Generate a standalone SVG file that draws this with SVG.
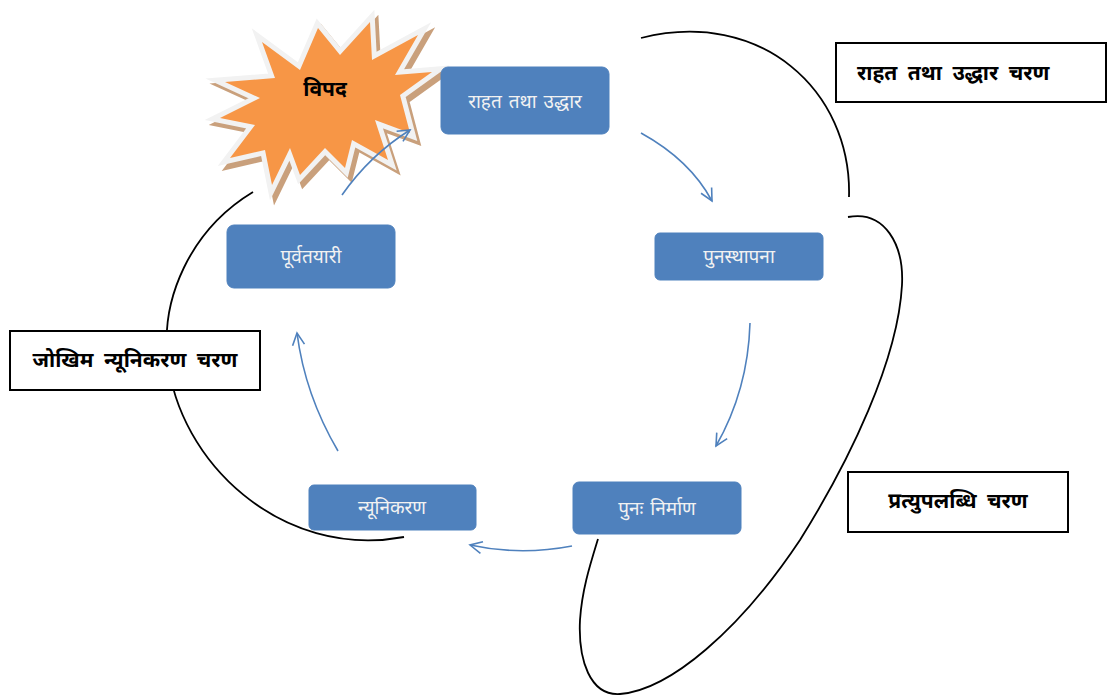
<svg xmlns="http://www.w3.org/2000/svg" width="1111" height="696" viewBox="0 0 1111 696">
<style>
.box{fill:#4F81BD;stroke:#4F81BD;stroke-width:1}
.btxt{font-family:"Noto Sans","Noto Serif",sans-serif;font-size:19px;word-spacing:2px;fill:#F2F2F2;text-anchor:middle;dominant-baseline:central}
.lbl{fill:#FFFFFF;stroke:#000000;stroke-width:2}
.ltxt{font-family:"Noto Sans",sans-serif;font-size:21px;word-spacing:5px;font-weight:bold;fill:#000000;dominant-baseline:central}
.arc{fill:none;stroke:#000000;stroke-width:1.8}
.flow{fill:none;stroke:#4F81BD;stroke-width:1.6;marker-end:url(#ah)}
</style>
<defs>
<marker id="ah" markerUnits="userSpaceOnUse" markerWidth="16" markerHeight="16" viewBox="0 0 16 16" refX="14" refY="8" orient="auto">
<path d="M2,2 L14,8 L2,14" fill="none" stroke="#4F81BD" stroke-width="1.6"/>
</marker>
<polygon id="star" points="262,42 300,70 318,28 340,55 370,22 372,60 418,35 395,75 432,72 400,95 410,133 375,120 388,160 352,140 345,168 325,148 300,175 290,148 272,185 265,150 230,158 255,125 220,118 260,98 225,82 275,78"/>
</defs>
<g id="disaster">
<use href="#star" transform="translate(4,5)" fill="#C9A07C" stroke="#C9A07C" stroke-width="10" stroke-linejoin="miter"/>
<use href="#star" fill="#F2F2F2" stroke="#F2F2F2" stroke-width="10" stroke-linejoin="miter"/>
<use href="#star" fill="#F79646"/>
<text x="325" y="88" class="ltxt" text-anchor="middle">विपद</text>
</g>
<g id="relief">
<rect class="box" x="441" y="67" width="168" height="67" rx="7"/>
<text class="btxt" x="525" y="101">राहत तथा उद्धार</text>
</g>
<g id="restoration">
<rect class="box" x="655" y="233" width="168" height="47" rx="5"/>
<text class="btxt" x="739" y="256">पुनस्थापना</text>
</g>
<g id="reconstruction">
<rect class="box" x="573" y="482" width="168" height="52" rx="6"/>
<text class="btxt" x="657" y="508">पुनः निर्माण</text>
</g>
<g id="mitigation">
<rect class="box" x="309" y="485" width="167" height="45" rx="5"/>
<text class="btxt" x="392" y="507">न्यूनिकरण</text>
</g>
<g id="preparedness">
<rect class="box" x="227" y="225" width="168" height="63" rx="7"/>
<text class="btxt" x="311" y="256">पूर्वतयारी</text>
</g>
<g id="connectors">
<path class="arc" d="M641,38 C760,8 852,90 849,197"/>
<path class="arc" d="M848,217 C885,210 904,245 902,285 C898,360 850,460 800,540 C740,630 670,690 620,694 C590,696 578,660 580,620 C582,590 590,565 598,539"/>
<path class="arc" d="M253,192 C190,230 160,300 168,360 C178,460 280,560 404,537"/>
<path class="flow" d="M342,195 Q370,155 410,130"/>
<path class="flow" d="M641,133 Q690,160 712,201"/>
<path class="flow" d="M750,323 Q748,390 716,446"/>
<path class="flow" d="M572,546 Q520,556 470,545"/>
<path class="flow" d="M338,451 Q305,395 297,333"/>
</g>
<g id="label-relief">
<rect class="lbl" x="836" y="43" width="270" height="59"/>
<text class="ltxt" x="857" y="72">राहत तथा उद्धार चरण</text>
</g>
<g id="label-risk">
<rect class="lbl" x="10" y="331" width="250" height="59"/>
<text class="ltxt" x="135" y="359" text-anchor="middle">जोखिम न्यूनिकरण चरण</text>
</g>
<g id="label-recovery">
<rect class="lbl" x="848" y="472" width="220" height="60"/>
<text class="ltxt" x="958" y="500" text-anchor="middle">प्रत्युपलब्धि चरण</text>
</g>
</svg>
